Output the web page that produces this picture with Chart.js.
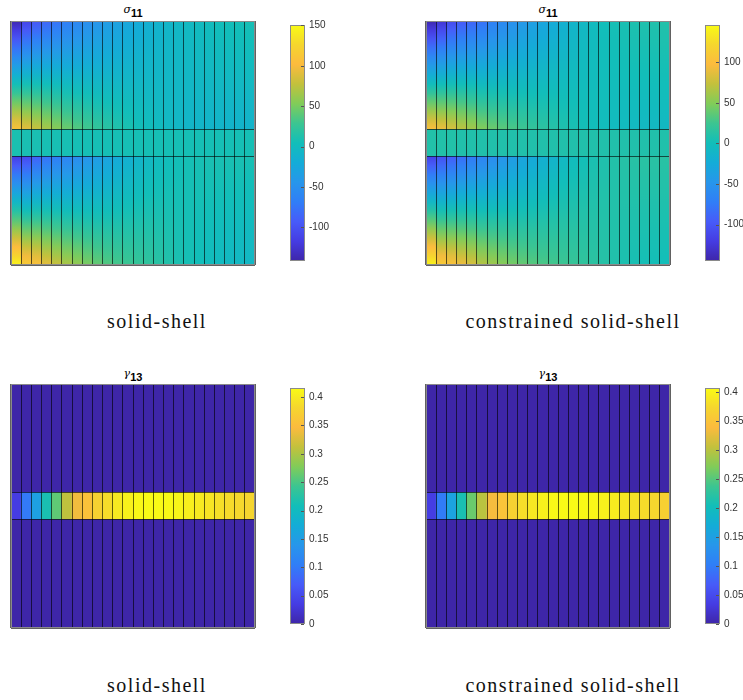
<!DOCTYPE html>
<html>
<head>
<meta charset="utf-8">
<script src="https://cdn.jsdelivr.net/npm/chart.js@4.4.1/dist/chart.umd.min.js"></script>
<style>
  body { margin: 0; background: #fff; }
  #page { position: relative; width: 743px; height: 700px; overflow: hidden; }
  canvas { position: absolute; }
  .ttl { position: absolute; width: 200px; text-align: center; font-family: "Liberation Sans", Arial, sans-serif;
         font-size: 11px; line-height: 12px; color: #000; }
  .ttl i { font-family: "DejaVu Serif", serif; font-size: 11px; }
  .ttl sub { font-weight: bold; font-size: 11px; vertical-align: -4px; }
  .cap { position: absolute; width: 320px; text-align: center; font-family: "Liberation Serif", serif;
         font-size: 20px; line-height: 24px; letter-spacing: 1.5px; color: #111; }
</style>
</head>
<body>
<div id="page">
  <canvas id="sigmaSolid" width="246" height="246" style="left:10px;top:20px"></canvas>
  <canvas id="sigmaSolidBar" width="56" height="256" style="left:290px;top:15px"></canvas>
  <canvas id="sigmaConstrained" width="246" height="246" style="left:425px;top:20px"></canvas>
  <canvas id="sigmaConstrainedBar" width="56" height="256" style="left:705px;top:15px"></canvas>
  <canvas id="gammaSolid" width="246" height="246" style="left:10px;top:383px"></canvas>
  <canvas id="gammaSolidBar" width="56" height="256" style="left:290px;top:378px"></canvas>
  <canvas id="gammaConstrained" width="246" height="246" style="left:425px;top:383px"></canvas>
  <canvas id="gammaConstrainedBar" width="56" height="256" style="left:705px;top:378px"></canvas>

  <div class="ttl" style="left:33px;top:3px"><i>σ</i><sub>11</sub></div>
  <div class="ttl" style="left:448px;top:3px"><i>σ</i><sub>11</sub></div>
  <div class="ttl" style="left:33px;top:367px"><i>γ</i><sub>13</sub></div>
  <div class="ttl" style="left:448px;top:367px"><i>γ</i><sub>13</sub></div>

  <div class="cap" style="left:-3px;top:309px">solid-shell</div>
  <div class="cap" style="left:413px;top:309px">constrained solid-shell</div>
  <div class="cap" style="left:-3px;top:673px">solid-shell</div>
  <div class="cap" style="left:413px;top:673px">constrained solid-shell</div>
</div>

<script>
// Element columns along the length, and layer thickness (bottom face, core, top face)
const columnLabels = [1, 2, 3, 4, 5, 6, 7, 8, 9, 10, 11, 12, 13, 14, 15, 16, 17, 18, 19, 20, 21, 22, 23, 24];
const layerThickness = [4, 1, 4];

// sigma_11, solid-shell: values at upper/lower edge of each layer, per column
const sigmaSolidTopUpper    = [-138, -112, -97, -86, -77, -68, -60, -52, -45, -38, -32, -26, -21, -16, -12, -8, -5, -2, 0, 2, 4, 5, 6, 7];
const sigmaSolidTopLower    = [108, 92, 80, 68, 57, 46, 38, 31, 24, 19, 14, 10, 6, 3, 0, -3, -5, -7, -8, -9, -9, -10, -10, -10];
const sigmaSolidCore        = [10, 9, 9, 8, 8, 8, 7, 7, 7, 7, 7, 7, 7, 7, 7, 7, 7, 7, 7, 7, 7, 7, 7, 7];
const sigmaSolidBottomUpper = [-115, -106, -89, -77, -68, -62, -54, -46, -38, -30, -22, -15, -9, -4, 0, 3, 5, 7, 8, 9, 9, 9, 9, 8];
const sigmaSolidBottomLower = [146, 116, 107, 92, 80, 69, 60, 51, 43, 37, 32, 28, 25, 22, 18, 14, 10, 7, 4, 1, -1, -3, -4, -5];

// sigma_11, constrained solid-shell
const sigmaConTopUpper    = [-142, -127, -110, -98, -90, -81, -70, -62, -54, -46, -39, -32, -25, -19, -13, -8, -4, 0, 3, 5, 7, 8, 9, 10];
const sigmaConTopLower    = [100, 91, 82, 71, 62, 50, 42, 36, 30, 25, 20, 16, 12, 8, 5, 2, 0, -2, -4, -5, -6, -7, -7, -7];
const sigmaConCore        = [10, 10, 10, 9, 9, 9, 9, 9, 9, 9, 9, 9, 9, 9, 9, 9, 9, 9, 9, 9, 9, 9, 9, 9];
const sigmaConBottomUpper = [-116, -104, -95, -84, -75, -66, -58, -50, -42, -34, -27, -20, -14, -8, -3, 1, 5, 8, 10, 12, 13, 14, 14, 14];
const sigmaConBottomLower = [141, 111, 103, 92, 82, 68, 60, 52, 45, 39, 34, 30, 27, 24, 21, 18, 15, 12, 9, 6, 4, 2, 1, 0];

// gamma_13: faces are ~0, the core carries the shear
const gammaFace      = [0, 0, 0, 0, 0, 0, 0, 0, 0, 0, 0, 0, 0, 0, 0, 0, 0, 0, 0, 0, 0, 0, 0, 0];
const gammaSolidCore = [0.035, 0.1, 0.155, 0.215, 0.26, 0.31, 0.34, 0.355, 0.375, 0.387, 0.399, 0.407,
                        0.413, 0.415, 0.415, 0.414, 0.41, 0.405, 0.4, 0.395, 0.39, 0.386, 0.383, 0.38];
const gammaConCore   = [0.035, 0.1, 0.155, 0.21, 0.26, 0.3, 0.335, 0.35, 0.367, 0.38, 0.39, 0.398,
                        0.404, 0.406, 0.406, 0.405, 0.403, 0.398, 0.393, 0.388, 0.383, 0.378, 0.373, 0.365];

// Colour limits and colorbar ticks
const sigmaSolidRange = [-141.5, 150.5];
const sigmaConRange   = [-145, 146];
const gammaSolidRange = [0, 0.416];
const gammaConRange   = [0, 0.407];
const sigmaTicks = [-100, -50, 0, 50, 100, 150];
const gammaTicks = [0, 0.05, 0.1, 0.15, 0.2, 0.25, 0.3, 0.35, 0.4];

// parula, sampled at 13 points
const PARULA = [
    [62, 38, 168], [69, 60, 226], [71, 91, 249], [48, 126, 247], [39, 150, 235],
    [20, 172, 215], [18, 190, 185], [60, 197, 145], [129, 204, 89], [195, 193, 60],
    [252, 187, 62], [245, 214, 46], [249, 251, 21]
];

function parula(f) {
    f = Math.min(1, Math.max(0, f));
    const p = f * (PARULA.length - 1);
    const i = Math.min(Math.floor(p), PARULA.length - 2);
    const t = p - i;
    return [0, 1, 2].map(k => PARULA[i][k] + (PARULA[i + 1][k] - PARULA[i][k]) * t);
}

function rgb(c) {
    return "rgb(" + c.map(v => Math.round(v)).join(",") + ")";
}

// Vertical gradient between two pixel rows, interpolating the value then mapping through parula
function valueGradient(ctx, y0, y1, v0, v1, range) {
    const g = ctx.createLinearGradient(0, y0, 0, y1);
    for (let i = 0; i <= 12; i++) {
        const t = i / 12;
        const v = v0 + (v1 - v0) * t;
        g.addColorStop(t, rgb(parula((v - range[0]) / (range[1] - range[0]))));
    }
    return g;
}

function layerFill(c, layers, range) {
    const chart = c.chart;
    if (!chart.chartArea || c.type !== "data") return "rgba(0,0,0,0)";
    const y = chart.scales.y;
    const k = c.datasetIndex, i = c.dataIndex;
    const base = layerThickness.slice(0, k).reduce((a, b) => a + b, 0);
    const y0 = y.getPixelForValue(base);
    const y1 = y.getPixelForValue(base + layerThickness[k]);
    return valueGradient(chart.ctx, y0, y1, layers[k].lower[i], layers[k].upper[i], range);
}

// Grey box around each map and colorbar
const framePlugin = {
    id: "frame",
    afterDraw(chart) {
        const a = chart.chartArea, ctx = chart.ctx;
        ctx.save();
        ctx.strokeStyle = "#8a8a8a";
        ctx.lineWidth = 1;
        ctx.strokeRect(Math.round(a.left) + 0.5, Math.round(a.top) + 0.5,
                       Math.round(a.width) - 1, Math.round(a.height) - 1);
        ctx.restore();
    }
};

// Small inward tick marks on the colorbar's right edge
const colorbarTicks = {
    id: "colorbarTicks",
    afterDraw(chart) {
        const ctx = chart.ctx, a = chart.chartArea, y = chart.scales.y;
        ctx.save();
        ctx.strokeStyle = "#555";
        ctx.lineWidth = 1;
        y.ticks.forEach(t => {
            const py = Math.round(y.getPixelForValue(t.value)) + 0.5;
            ctx.beginPath();
            ctx.moveTo(a.right - 4, py);
            ctx.lineTo(a.right - 1, py);
            ctx.stroke();
        });
        ctx.restore();
    }
};

function createHeatmap(canvasId, layers, range) {
    const total = layerThickness.reduce((a, b) => a + b, 0);
    const bounds = layerThickness.reduce((acc, t) => acc.concat(acc[acc.length - 1] + t), [0]);
    const edges = { color: "rgba(0,0,0,0.62)", lineWidth: 1, drawTicks: false, z: 1 };
    const datasets = layers.map((layer, k) => ({
        data: columnLabels.map(() => layerThickness[k]),
        backgroundColor: c => layerFill(c, layers, range),
        borderWidth: 0,
        barPercentage: 1,
        categoryPercentage: 1
    }));
    new Chart(document.getElementById(canvasId), {
        type: "bar",
        data: { labels: columnLabels, datasets: datasets },
        options: {
            responsive: false,
            animation: false,
            devicePixelRatio: 1,
            layout: { padding: 1 },
            plugins: { legend: { display: false }, tooltip: { enabled: false } },
            scales: {
                // element edges drawn as grid lines above the cells
                x: { stacked: true, grid: Object.assign({ offset: true }, edges),
                     border: { display: false }, ticks: { display: false } },
                y: { stacked: true, min: 0, max: total, grid: edges,
                     afterBuildTicks: s => { s.ticks = bounds.map(v => ({ value: v })); },
                     border: { display: false }, ticks: { display: false } }
            }
        },
        plugins: [framePlugin]
    });
}

function createColorbar(canvasId, range, ticks) {
    new Chart(document.getElementById(canvasId), {
        type: "bar",
        data: {
            labels: [""],
            datasets: [{
                data: [range],
                backgroundColor: c => {
                    const chart = c.chart;
                    if (!chart.chartArea) return "rgba(0,0,0,0)";
                    const y = chart.scales.y;
                    return valueGradient(chart.ctx, y.getPixelForValue(range[0]), y.getPixelForValue(range[1]),
                                         range[0], range[1], range);
                },
                borderWidth: 0,
                barPercentage: 1,
                categoryPercentage: 1
            }]
        },
        options: {
            responsive: false,
            animation: false,
            devicePixelRatio: 1,
            layout: { padding: { top: 6, bottom: 6, left: 0, right: 0 } },
            plugins: { legend: { display: false }, tooltip: { enabled: false } },
            scales: {
                x: { display: false },
                y: {
                    position: "right",
                    min: range[0],
                    max: range[1],
                    afterBuildTicks: s => {
                        s.ticks = ticks.filter(v => v >= range[0] && v <= range[1]).map(v => ({ value: v }));
                    },
                    afterFit: s => { s.width = 41; },
                    grid: { display: false, drawTicks: false },
                    border: { display: false },
                    ticks: {
                        padding: 4,
                        color: "#333",
                        font: { family: "Liberation Sans", size: 10 },
                        callback: v => String(v)
                    }
                }
            }
        },
        plugins: [framePlugin, colorbarTicks]
    });
}

document.addEventListener("DOMContentLoaded", function() {
    createHeatmap("sigmaSolid", [
        { lower: sigmaSolidBottomLower, upper: sigmaSolidBottomUpper },
        { lower: sigmaSolidCore, upper: sigmaSolidCore },
        { lower: sigmaSolidTopLower, upper: sigmaSolidTopUpper }
    ], sigmaSolidRange);
    createColorbar("sigmaSolidBar", sigmaSolidRange, sigmaTicks);

    createHeatmap("sigmaConstrained", [
        { lower: sigmaConBottomLower, upper: sigmaConBottomUpper },
        { lower: sigmaConCore, upper: sigmaConCore },
        { lower: sigmaConTopLower, upper: sigmaConTopUpper }
    ], sigmaConRange);
    createColorbar("sigmaConstrainedBar", sigmaConRange, sigmaTicks);

    createHeatmap("gammaSolid", [
        { lower: gammaFace, upper: gammaFace },
        { lower: gammaSolidCore, upper: gammaSolidCore },
        { lower: gammaFace, upper: gammaFace }
    ], gammaSolidRange);
    createColorbar("gammaSolidBar", gammaSolidRange, gammaTicks);

    createHeatmap("gammaConstrained", [
        { lower: gammaFace, upper: gammaFace },
        { lower: gammaConCore, upper: gammaConCore },
        { lower: gammaFace, upper: gammaFace }
    ], gammaConRange);
    createColorbar("gammaConstrainedBar", gammaConRange, gammaTicks);
});
</script>
</body>
</html>
